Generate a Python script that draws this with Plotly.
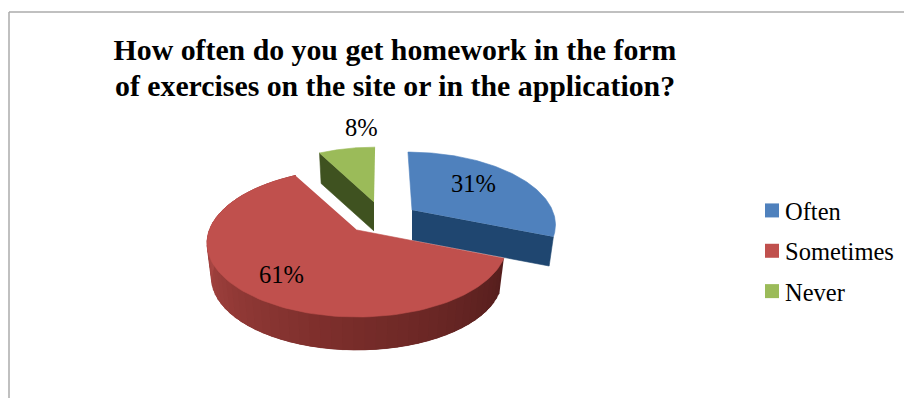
import numpy as np
import plotly.graph_objects as go

categories = ["Often", "Sometimes", "Never"]
values = [31, 61, 8]
top_colors = ["#4F81BD", "#C0504D", "#9BBB59"]
title_lines = ["How often do you get homework in the form",
               "of exercises on the site or in the application?"]
FONT = "Liberation Serif"
FS = 24.5
TITLE_FS = 29.8

# projection of the tilted pie into page pixels
A, B, K = 147.7, 71.7, 0.176
slice_style = {
    "Often":     dict(apex=(412, 210), scale=0.95, shear=0.07, depth=30, wall=("#1F4670", "#1B3D62")),
    "Sometimes": dict(apex=(357, 230), scale=1.00, shear=0.0, depth=35.6, wall=None),
    "Never":     dict(apex=(374, 202), scale=0.90, shear=-0.02, depth=29, wall=("#3F5220", "#46591F")),
}
label_pos = {"Often": (473, 183), "Sometimes": (281, 274), "Never": (361, 127)}


def project(theta, style, r=1.0, bottom=False):
    u, v = r * np.sin(theta), -r * np.cos(theta)
    w = 1 - K * v
    sx, sy = A * u / w * style["scale"], B * v / w * style["scale"]
    sx = sx + style["shear"] * sy
    if bottom:
        return style["apex"][0] + 0.97 * sx, style["apex"][1] + 0.97 * sy + style["depth"]
    return style["apex"][0] + sx, style["apex"][1] + sy


def mix(c1, c2, t):
    a = [int(c1[i:i + 2], 16) for i in (1, 3, 5)]
    b = [int(c2[i:i + 2], 16) for i in (1, 3, 5)]
    return "rgb(%d,%d,%d)" % tuple(round(p + (q - p) * t) for p, q in zip(a, b))


def poly(xs, ys, color, name):
    return go.Scatter(x=list(xs), y=list(ys), mode="lines", fill="toself", fillcolor=color,
                      line=dict(color=color, width=0.6), hoverinfo="skip", showlegend=False, name=name)


fig = go.Figure()
edges = np.cumsum([0] + values) / sum(values) * 2 * np.pi
wedges = {c: (edges[i], edges[i + 1]) for i, c in enumerate(categories)}

for cat, color in zip(["Never", "Often", "Sometimes"], [top_colors[2], top_colors[0], top_colors[1]]):
    st = slice_style[cat]
    t0, t1 = wedges[cat]
    if cat == "Sometimes":
        # wall drawn as overlapping strips, far end to near end, so no seams show
        strips = np.linspace(t0, t1, 61)
        step = strips[1] - strips[0]
        for a in strips[:-1]:
            b = min(a + 3 * step, t1)
            pts = [project(a, st), project(b, st), project(b, st, bottom=True), project(a, st, bottom=True)]
            f = min(1, max(0, (a - t0) / (1.5 * np.pi - t0)))
            shade = mix("#551E1D", "#7E2F2C", f / 0.5) if f < 0.5 else mix("#7E2F2C", "#AB4744", (f - 0.5) / 0.5)
            fig.add_trace(poly([p[0] for p in pts], [p[1] for p in pts], shade, cat))
    else:
        edge = t1 if cat == "Often" else t0
        ax, ay = st["apex"]
        tx, ty = project(edge, st)
        bx, by = project(edge, st, bottom=True)
        fig.add_trace(poly([ax, tx, bx, ax], [ay, ty, by, ay + st["depth"]], st["wall"][0], cat))
    arc = [project(t, st) for t in np.linspace(t0, t1, 120)]
    fig.add_trace(poly([st["apex"][0]] + [p[0] for p in arc], [st["apex"][1]] + [p[1] for p in arc], color, cat))

# legend entries
for cat, color in zip(categories, top_colors):
    fig.add_trace(go.Scatter(x=[None], y=[None], mode="markers", name=cat, legendgroup=cat,
                             marker=dict(symbol="square", size=14, color=color)))

annotations = [dict(x=label_pos[c][0], y=label_pos[c][1], xref="x", yref="y", text=f"{v}%", showarrow=False,
                    font=dict(family=FONT, size=FS, color="#000000"))
               for c, v in zip(categories, values)]
annotations.append(dict(x=395, y=85, xref="x", yref="y", text=title_lines[1], showarrow=False,
                        xanchor="center", yanchor="middle",
                        font=dict(family=FONT, size=TITLE_FS, color="#000000", weight="bold")))

fig.update_layout(
    width=904, height=398, margin=dict(l=0, r=0, t=0, b=0),
    paper_bgcolor="white", plot_bgcolor="white",
    xaxis=dict(range=[0, 904], visible=False, fixedrange=True),
    yaxis=dict(range=[398, 0], visible=False, fixedrange=True),
    title=dict(text=title_lines[0], x=395 / 904, xanchor="center", y=1 - 50 / 398, yanchor="middle",
               font=dict(family=FONT, size=TITLE_FS, color="#000000", weight="bold")),
    legend=dict(x=745 / 904, xanchor="left", y=1 - 188 / 398, yanchor="top", bgcolor="rgba(0,0,0,0)",
                font=dict(family=FONT, size=FS, color="#000000"), tracegroupgap=5.5, itemclick=False),
    annotations=annotations,
    shapes=[
        dict(type="line", xref="x", yref="y", x0=9, x1=9, y0=12, y1=398, line=dict(color="#ABABAB", width=1.5)),
        dict(type="line", xref="x", yref="y", x0=9, x1=904, y0=12, y1=12, line=dict(color="#ABABAB", width=1.5)),
    ],
)
fig.write_html("out.html", config=dict(displayModeBar=False),
               post_script="document.body.style.margin='0';"
                           "document.querySelectorAll('.legendsymbols').forEach(function(g){"
                           "g.setAttribute('transform','translate(7,0)');});")
